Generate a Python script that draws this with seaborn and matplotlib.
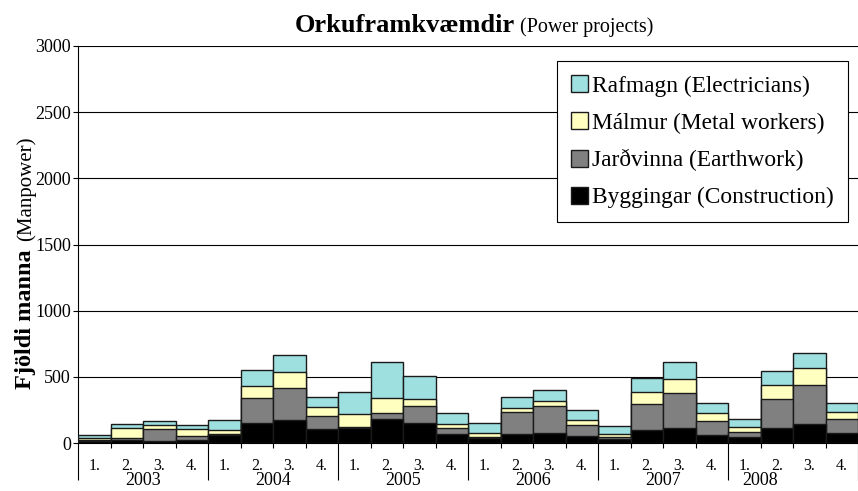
import numpy as np
import pandas as pd
import seaborn as sns
import matplotlib.pyplot as plt
import matplotlib.transforms as mtransforms

# --- data (persons per quarter) ---
years = ['2003', '2004', '2005', '2006', '2007', '2008']
quarters = ['1.', '2.', '3.', '4.']
byggingar = [12, 23, 18, 20, 61, 149, 177, 104, 113, 178, 153, 70,
             40, 70, 75, 50, 33, 95, 115, 58, 45, 113, 146, 78]
jardvinna = [10, 15, 88, 30, 5, 189, 242, 98, 5, 45, 128, 40,
             5, 161, 204, 86, 12, 199, 261, 110, 38, 221, 291, 105]
malmur = [15, 73, 30, 56, 35, 91, 119, 68, 98, 118, 55, 30,
          30, 35, 37, 40, 25, 95, 111, 55, 37, 108, 133, 55]
rafmagn = [20, 35, 28, 28, 71, 121, 127, 81, 168, 269, 174, 90,
           76, 80, 81, 70, 58, 105, 123, 76, 63, 103, 113, 63]
y_ticks = [0, 500, 1000, 1500, 2000, 2500, 3000]

series_names = ['Rafmagn (Electricians)', 'Málmur (Metal workers)',
                'Jarðvinna (Earthwork)', 'Byggingar (Construction)']
series_colors = ['#9EDFDF', '#FFFFC0', '#808080', '#000000']

n = len(byggingar)
df = pd.DataFrame({'pos': np.arange(n), 'B': byggingar, 'J': jardvinna,
                   'M': malmur, 'R': rafmagn})
# cumulative heights, drawn back to front to get a stacked look
df['c4'] = df['B'] + df['J'] + df['M'] + df['R']
df['c3'] = df['B'] + df['J'] + df['M']
df['c2'] = df['B'] + df['J']
df['c1'] = df['B']

sns.set_style('white')
plt.rcParams['font.family'] = ['Liberation Serif', 'DejaVu Serif']
plt.rcParams['text.color'] = 'black'
plt.rcParams['xtick.color'] = 'black'
plt.rcParams['ytick.color'] = 'black'

PX = 72 / 100  # points per pixel at dpi 100

fig = plt.figure(figsize=(8.58, 4.91), dpi=100)
ax = fig.add_axes([78 / 858, 1 - 443 / 491, 780 / 858, 397 / 491])

for col, name, color in zip(['c4', 'c3', 'c2', 'c1'], series_names, series_colors):
    sns.barplot(data=df, x='pos', y=col, color=color, width=1.0, saturation=1,
                edgecolor='#1a1a1a', linewidth=1.0, label=name, ax=ax, zorder=3)

ax.set_ylim(0, 3000)
ax.set_xlim(-0.5, 23.33)
ax.set_yticks(y_ticks)
ax.set_yticklabels([str(t) for t in y_ticks], fontsize=13)
ax.yaxis.grid(True, color='black', linewidth=0.8)
ax.set_axisbelow(True)
ax.set_xlabel('')
ax.set_ylabel('')

for s in ['top', 'right']:
    ax.spines[s].set_visible(False)
for s in ['left', 'bottom']:
    ax.spines[s].set_color('black')
    ax.spines[s].set_linewidth(0.8)

ax.tick_params(axis='y', direction='out', length=5 * PX, width=0.8, pad=1.5,
               left=True)

# two-level category axis: short quarter ticks, long year separators
ax.set_xticks(np.arange(0, n + 1, 4) - 0.5)
ax.set_xticks(np.arange(n + 1) - 0.5, minor=True)
ax.tick_params(axis='x', which='major', direction='out', length=37 * PX,
               width=0.8, labelbottom=False, bottom=True)
ax.tick_params(axis='x', which='minor', direction='out', length=5 * PX,
               width=0.8, labelbottom=False, bottom=True)

trans = mtransforms.blended_transform_factory(ax.transData, ax.transAxes)
for i in range(n):
    ax.text(i, -0.058, quarters[i % 4], transform=trans, ha='center',
            va='center', fontsize=11.5)
year_centres = [4 * k + 1.5 for k in range(len(years))]
year_centres[-1] -= 1.0  # last year label sits left in the original (chart cut off)
for xc, yr in zip(year_centres, years):
    ax.text(xc, -0.095, yr, transform=trans, ha='center', va='center',
            fontsize=13)

# legend
leg = ax.legend(loc='upper left', bbox_to_anchor=(0.614, 0.962), borderaxespad=0,
                fontsize=16.8, frameon=True, fancybox=False, framealpha=1,
                edgecolor='black', borderpad=0.6, labelspacing=0.66,
                handlelength=0.75, handleheight=0.75, handletextpad=0.15)
leg.get_frame().set_linewidth(0.8)

# title in two weights
fig.text(515 / 858, 1 - 32 / 491, 'Orkuframkvæmdir', ha='right', va='baseline',
         fontsize=19, fontweight='bold')
fig.text(520 / 858, 1 - 32 / 491, '(Power projects)', ha='left', va='baseline',
         fontsize=14.5)

# y label in two weights
fig.text(31 / 858, 1 - 389 / 491, 'Fjöldi manna', rotation=90,
         rotation_mode='anchor', ha='left', va='baseline', fontsize=17.5,
         fontweight='bold')
fig.text(31 / 858, 1 - 241 / 491, '(Manpower)', rotation=90,
         rotation_mode='anchor', ha='left', va='baseline', fontsize=15)

fig.savefig('out.png', dpi=100)
